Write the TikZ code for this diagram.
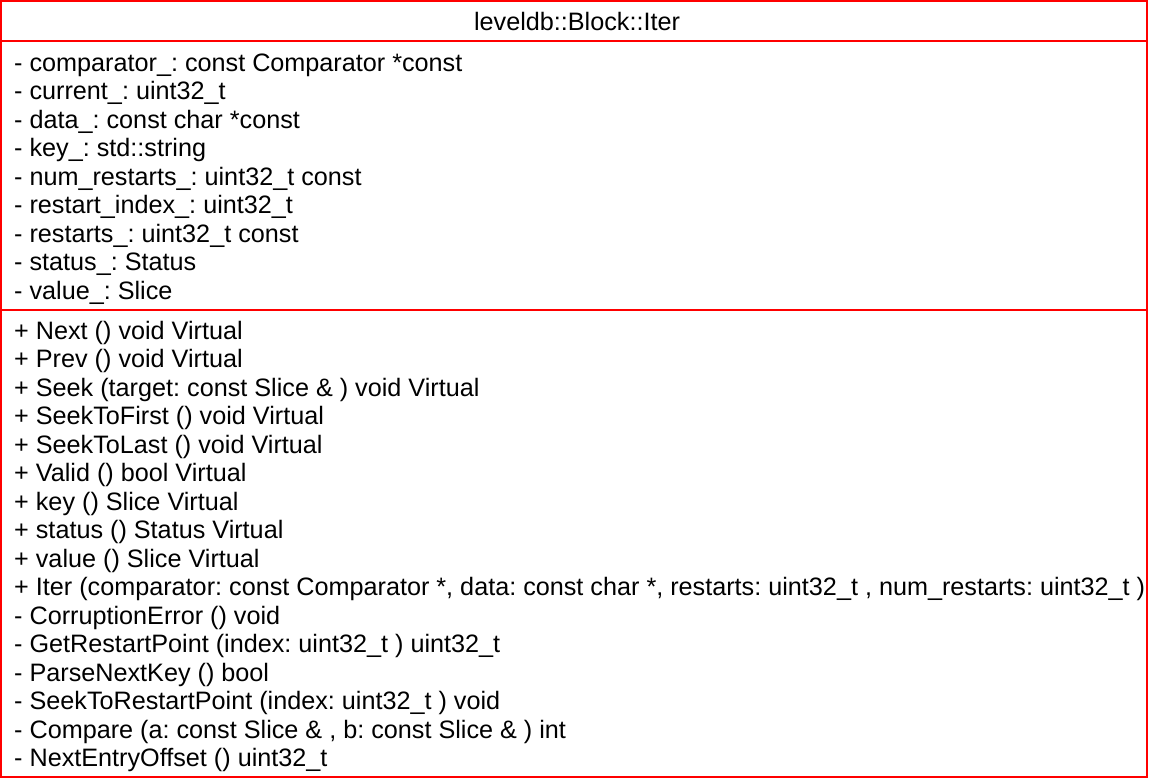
\documentclass[tikz,border=0pt]{standalone}
\usepackage{fontspec}
\setmainfont{Liberation Sans}
\frenchspacing
\begin{document}
\begin{tikzpicture}[x=1pt,y=-1pt,
  frame/.style={draw=red,line width=2pt},
  member/.style={anchor=base west,inner sep=0pt,font=\fontsize{25.2}{30}\selectfont},
  titletext/.style={anchor=base,inner sep=0pt,font=\fontsize{25.2}{30}\selectfont}]
\useasboundingbox (0,0) rectangle (1149,780);
\draw[frame] (1,1) rectangle (1147,777);
\draw[frame] (1,41) -- (1147,41);
\draw[frame] (1,310) -- (1147,310);
\node[titletext] (title) at (577,30) {leveldb::Block::Iter};
\foreach \t [count=\i from 0] in {
  {- comparator\_: const Comparator *const},
  {- current\_: uint32\_t},
  {- data\_: const char *const},
  {- key\_: std::string},
  {- num\_restarts\_: uint32\_t const},
  {- restart\_index\_: uint32\_t},
  {- restarts\_: uint32\_t const},
  {- status\_: Status},
  {- value\_: Slice}}
  \node[member] (attr\i) at (14,71+28.5*\i) {\t};
\foreach \t [count=\i from 0] in {
  {+ Next () void Virtual},
  {+ Prev () void Virtual},
  {+ Seek (target: const Slice \& ) void Virtual},
  {+ SeekToFirst () void Virtual},
  {+ SeekToLast () void Virtual},
  {+ Valid () bool Virtual},
  {+ key () Slice Virtual},
  {+ status () Status Virtual},
  {+ value () Slice Virtual},
  {+ Iter (comparator: const Comparator *, data: const char *, restarts: uint32\_t , num\_restarts: uint32\_t )},
  {- CorruptionError () void},
  {- GetRestartPoint (index: uint32\_t ) uint32\_t},
  {- ParseNextKey () bool},
  {- SeekToRestartPoint (index: uint32\_t ) void},
  {- Compare (a: const Slice \& , b: const Slice \& ) int},
  {- NextEntryOffset () uint32\_t}}
  \node[member] (meth\i) at (14,339+28.5*\i) {\t};
\end{tikzpicture}
\end{document}
